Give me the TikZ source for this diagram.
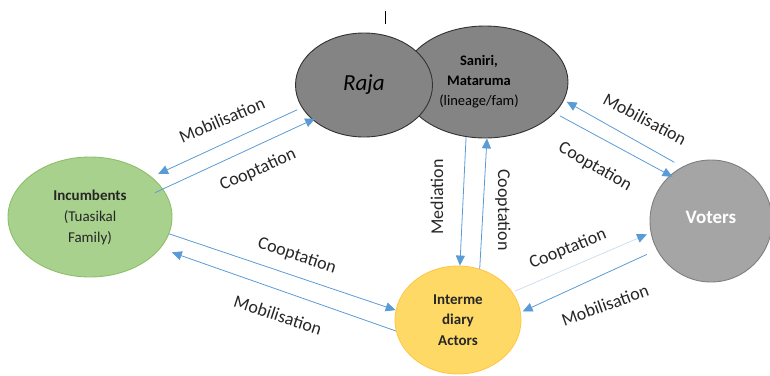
\documentclass[tikz,border=0pt]{standalone}
\usepackage{fontspec}
\setmainfont{Carlito}
\usetikzlibrary{shapes.geometric,arrows.meta}
\definecolor{arrblue}{HTML}{5B9BD5}
\definecolor{darkgr}{RGB}{132,132,132}
\definecolor{darkgrb}{RGB}{50,50,50}
\definecolor{greenf}{HTML}{A9D18E}
\definecolor{greenb}{HTML}{8CC068}
\definecolor{yelf}{HTML}{FFD966}
\definecolor{yelb}{HTML}{FFC847}
\definecolor{votf}{HTML}{A5A5A5}
\definecolor{votb}{HTML}{7F7F7F}
\definecolor{txt}{HTML}{262626}
\begin{document}
\begin{tikzpicture}[x=1pt,y=-1pt,
  arr/.style={draw=arrblue, line width=0.8pt, -{Triangle[length=10pt,width=9pt]}},
  faint/.style={draw=arrblue!35, line width=0.7pt, -{Triangle[length=10pt,width=9pt,color=arrblue]}},
  lbl/.style={font=\fontsize{18}{18}\selectfont, text=txt, inner sep=0pt},
  ell/.style={ellipse, inner sep=0pt, align=center, line width=0.9pt},
  grayell/.style={ell, fill=darkgr, draw=darkgrb, text=black}
]
\useasboundingbox (0,0) rectangle (770,375);

% cursor mark
\draw[line width=0.8pt] (385,11) -- (385,24);

% nodes
\node[grayell, minimum width=166pt, minimum height=112pt,
      font=\fontsize{14.5}{20}\selectfont] (san) at (485,82)
  {\hspace*{-12pt}\textbf{Saniri,}\\\hspace*{-12pt}\textbf{Mataruma}\\\hspace*{-12pt}(lineage/fam)};
\node[grayell, minimum width=137pt, minimum height=104pt,
      font=\fontsize{23}{23}\selectfont\itshape] (raja) at (364,85) {\raisebox{4pt}{Raja}};
\node[ell, fill=greenf, draw=greenb, minimum width=164pt, minimum height=120pt,
      font=\fontsize{15}{21}\selectfont, text=txt] (inc) at (90,217)
  {\textbf{Incumbents}\\(Tuasikal\\Family)};
\node[ell, fill=yelf, draw=yelb, minimum width=126pt, minimum height=108pt,
      font=\fontsize{15}{20.5}\selectfont\bfseries, text=txt] (mid) at (458,320)
  {Interme\\diary\\Actors};
\node[ell, fill=votf, draw=votb, minimum width=122pt, minimum height=122pt,
      font=\fontsize{19}{19}\selectfont\bfseries, text=white] (vot) at (711,221)
  {\raisebox{8pt}{Voters}};

% connectors
\draw[arr, shorten <=5pt, shorten >=7pt] (raja.200.5) -- (inc.33.5);
\draw[arr, shorten <=-9pt, shorten >=-3pt] (inc.21.3) -- (raja.214.4);
\draw[arr] (inc.348.7) -- (mid.171);
\draw[arr, shorten >=12pt] (mid.190.7) -- (inc.336.6);
\draw[arr] (san.251.2) -- (mid.88);
\draw[arr] (mid.67) -- (san.272);
\draw[arr, shorten <=9pt, shorten >=3pt] (vot.118.7) -- (san.347.6);
\draw[arr, shorten <=6pt, shorten >=-3pt] (san.336.8) -- (vot.132.9);
\draw[faint, shorten <=3pt, shorten >=4pt] (mid.27.8) -- (vot.191.5);
\draw[arr, shorten <=11pt, shorten >=2pt] (vot.208.7) -- (mid.7);

% labels
\node[lbl, rotate=23] (l1) at (222,120) {Mobilisation};
\node[lbl, rotate=24] (l2) at (258,170) {Cooptation};
\node[lbl, rotate=-18] (l3) at (297,256) {Cooptation};
\node[lbl, rotate=-18] (l4) at (278,315) {Mobilisation};
\node[lbl, rotate=90] (l5) at (437,197) {Mediation};
\node[lbl, rotate=-90] (l6) at (503,210) {Cooptation};
\node[lbl, rotate=-28] (l7) at (645,119) {Mobilisation};
\node[lbl, rotate=-30] (l8) at (595,167) {Cooptation};
\node[lbl, rotate=22] (l9) at (568,249) {Cooptation};
\node[lbl, rotate=20] (l10) at (605,305) {Mobilisation};
\end{tikzpicture}
\end{document}
